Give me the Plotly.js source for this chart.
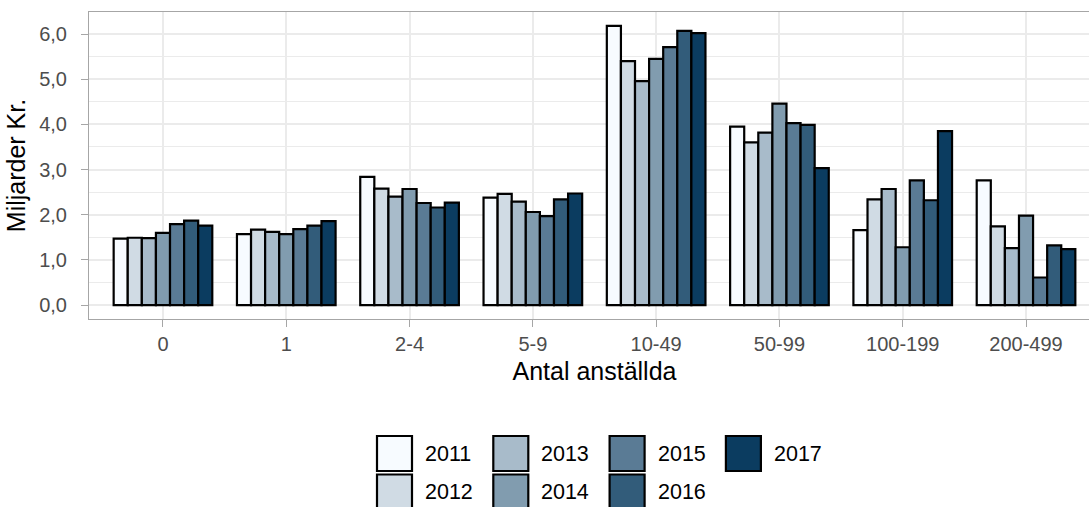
<!DOCTYPE html>
<html>
<head>
<meta charset="utf-8">
<script src="https://cdn.plot.ly/plotly-3.0.1.min.js"></script>
<style>
html, body { margin: 0; padding: 0; overflow: hidden; background: #fff; }
#chart { width: 1110px; height: 507px; }
</style>
</head>
<body>
<div id="chart"></div>
<script>
// ---- data ----
const categories = ['0', '1', '2-4', '5-9', '10-49', '50-99', '100-199', '200-499'];
const years = ['2011', '2012', '2013', '2014', '2015', '2016', '2017'];
const v2011 = [1.47, 1.57, 2.84, 2.38, 6.18, 3.95, 1.66, 2.76];
const v2012 = [1.49, 1.67, 2.58, 2.46, 5.40, 3.60, 2.34, 1.74];
const v2013 = [1.48, 1.62, 2.40, 2.29, 4.96, 3.82, 2.57, 1.26];
const v2014 = [1.60, 1.57, 2.57, 2.06, 5.45, 4.46, 1.28, 1.98];
const v2015 = [1.79, 1.68, 2.26, 1.97, 5.71, 4.03, 2.76, 0.61];
const v2016 = [1.87, 1.76, 2.16, 2.34, 6.07, 3.99, 2.32, 1.32];
const v2017 = [1.76, 1.86, 2.27, 2.47, 6.02, 3.03, 3.85, 1.24];
const yTickVals = [0, 1, 2, 3, 4, 5, 6];
const yTickText = ['0,0', '1,0', '2,0', '3,0', '4,0', '5,0', '6,0'];
const xTitle = 'Antal anställda';
const yTitle = 'Miljarder Kr.';

const seriesValues = [v2011, v2012, v2013, v2014, v2015, v2016, v2017];
const colors = ['#F7FBFF', '#D0DBE4', '#A8BBCA', '#819CAF', '#5A7B95', '#325C7A', '#0B3C60'];

const FONT = '"Liberation Sans", Arial, Helvetica, sans-serif';

const traces = years.map((yr, i) => ({
  type: 'bar',
  name: yr,
  x: categories,
  y: seriesValues[i],
  marker: { color: colors[i], line: { color: '#000000', width: 2.2 } },
  showlegend: false
}));

// plot area geometry (pixels) used for the hand-drawn legend
const ML = 89, MT = 12, PW = 1011, PH = 307;
const px2x = px => (px - ML) / PW;
const py2y = py => (MT + PH - py) / PH;

const shapes = [];
const annotations = [];
years.forEach((yr, i) => {
  const col = Math.floor(i / 2), row = i % 2;
  const bx = 377 + col * 116.3;
  const by = 436 + row * 38.5;
  shapes.push({
    type: 'rect', xref: 'paper', yref: 'paper',
    x0: px2x(bx), x1: px2x(bx + 35), y0: py2y(by + 35), y1: py2y(by),
    fillcolor: colors[i], line: { color: '#000000', width: 2.2 }
  });
  annotations.push({
    xref: 'paper', yref: 'paper', x: px2x(bx + 46), y: py2y(by + 17.5),
    xanchor: 'left', yanchor: 'middle', showarrow: false, text: yr,
    font: { family: FONT, size: 21.5, color: '#000000' }
  });
});

const layout = {
  width: 1110, height: 507,
  margin: { l: ML, r: 1110 - ML - PW, t: MT, b: 507 - MT - PH, pad: 0 },
  paper_bgcolor: '#ffffff', plot_bgcolor: '#ffffff',
  font: { family: FONT, color: '#4d4d4d' },
  barmode: 'group', bargap: 0.2, bargroupgap: 0,
  showlegend: false,
  xaxis: {
    type: 'category',
    range: [-0.6, 7.6],
    showgrid: true, gridcolor: '#ebebeb', gridwidth: 2,
    showline: true, linecolor: '#a6a6a6', linewidth: 1, mirror: true,
    ticks: 'outside', ticklen: 7, tickcolor: '#a6a6a6', tickwidth: 1,
    tickfont: { family: FONT, size: 20, color: '#4d4d4d' },
    title: { text: xTitle, font: { family: FONT, size: 25, color: '#000000' }, standoff: 8 },
    zeroline: false, fixedrange: true
  },
  yaxis: {
    range: [-0.309, 6.489],
    tickvals: yTickVals, ticktext: yTickText,
    showgrid: true, gridcolor: '#ebebeb', gridwidth: 2,
    minor: { dtick: 0.5, tick0: 0, showgrid: true, gridcolor: '#ebebeb', gridwidth: 1 },
    showline: true, linecolor: '#a6a6a6', linewidth: 1, mirror: true,
    ticks: 'outside', ticklen: 7, tickcolor: '#a6a6a6', tickwidth: 1,
    ticklabelstandoff: 10,
    tickfont: { family: FONT, size: 20, color: '#4d4d4d' },
    title: { text: yTitle, font: { family: FONT, size: 25, color: '#000000' }, standoff: 6 },
    zeroline: false, fixedrange: true
  },
  shapes: shapes,
  annotations: annotations
};

Plotly.newPlot('chart', traces, layout, { displayModeBar: false, staticPlot: true });
</script>
</body>
</html>
